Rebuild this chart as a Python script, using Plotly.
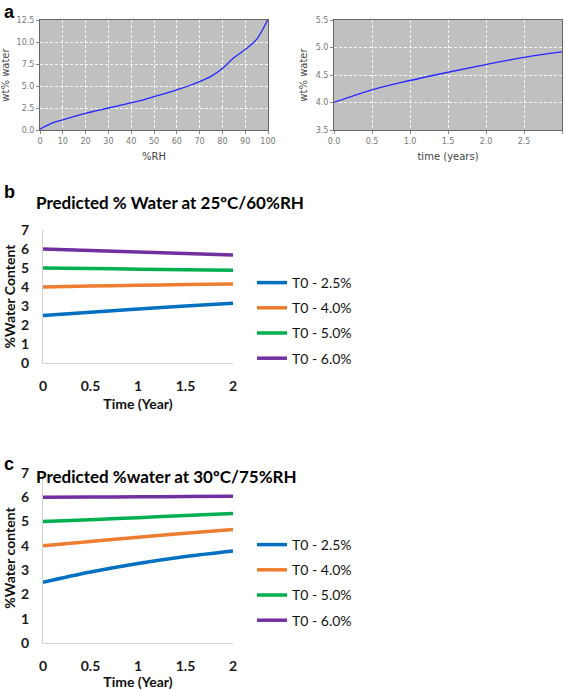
import plotly.graph_objects as go

W, H = 567, 690

# ---- Panel a data ----
rh = [0, 5, 10, 15, 20, 25, 30, 35, 40, 45, 50, 55, 60, 65, 70, 75, 80, 85, 90, 95, 100]
wt_rh = [0.1, 0.75, 1.15, 1.55, 1.9, 2.2, 2.5, 2.8, 3.1, 3.4, 3.8, 4.15, 4.57, 5.0, 5.5, 6.1, 7.0, 8.2, 9.15, 10.3, 12.6]
t_years = [0.0, 0.5, 1.0, 1.5, 2.0, 2.5, 3.0]
wt_time = [4.0, 4.23, 4.40, 4.55, 4.69, 4.82, 4.92]

# ---- Panel b / c data ----
t = [0, 0.5, 1.0, 1.5, 2.0]
names = ["T0 - 2.5%", "T0 - 4.0%", "T0 - 5.0%", "T0 - 6.0%"]
colors = ["#0070C0", "#ED7D31", "#00B050", "#7030A0"]
b_vals = [
    [2.5, 2.67, 2.84, 3.0, 3.14],
    [4.0, 4.05, 4.09, 4.13, 4.16],
    [5.0, 4.97, 4.94, 4.91, 4.88],
    [6.0, 5.92, 5.84, 5.76, 5.68],
]
c_vals = [
    [2.5, 2.92, 3.27, 3.56, 3.79],
    [4.0, 4.18, 4.35, 4.52, 4.67],
    [5.0, 5.08, 5.16, 5.25, 5.33],
    [6.0, 6.01, 6.02, 6.03, 6.04],
]

def xd(a, b):
    return [a / W, b / W]

def yd(top, bottom):
    return [1 - bottom / H, 1 - top / H]

fig = go.Figure()

fig.add_trace(go.Scatter(x=rh, y=wt_rh, mode="lines", line=dict(color="#2626ff", width=1.3, shape="spline"),
                         xaxis="x", yaxis="y", showlegend=False))
fig.add_trace(go.Scatter(x=t_years, y=wt_time, mode="lines", line=dict(color="#2626ff", width=1.3, shape="spline"),
                         xaxis="x2", yaxis="y2", showlegend=False))

for i in range(4):
    fig.add_trace(go.Scatter(x=t, y=b_vals[i], mode="lines", name=names[i],
                             line=dict(color=colors[i], width=3.5, shape="spline"),
                             xaxis="x3", yaxis="y3", legend="legend", legendgroup="b" + str(i)))
for i in range(4):
    fig.add_trace(go.Scatter(x=t, y=c_vals[i], mode="lines", name=names[i],
                             line=dict(color=colors[i], width=3.5, shape="spline"),
                             xaxis="x4", yaxis="y4", legend="legend2", legendgroup="c" + str(i)))

gray_font = dict(family="DejaVu Sans", size=8, color="#777777")
a_common = dict(showline=True, linecolor="#666666", mirror=True, linewidth=1,
                showgrid=True, gridcolor="rgba(255,255,255,0.85)", griddash="3px,2px", gridwidth=0.8,
                ticks="outside", ticklen=3, tickcolor="#888888", tickfont=gray_font,
                zeroline=False, automargin=False)

bc_x = dict(range=[0, 2], tickvals=[0, 0.5, 1, 1.5, 2], ticktext=["0", "0.5", "1", "1.5", "2"],
            showline=True, linecolor="#d0d0d0", linewidth=1, showgrid=False, zeroline=False, ticks="",
            ticklabelstandoff=10, automargin=False,
            tickfont=dict(family="Lato", size=14, color="#1a1a1a", weight="bold"))
bc_y = dict(range=[0, 7], dtick=1, showline=True, linecolor="#d0d0d0", linewidth=1, showgrid=False,
            zeroline=False, ticks="", ticklabelstandoff=10, automargin=False,
            tickfont=dict(family="Lato", size=14, color="#1a1a1a", weight="bold"))

title_a = dict(family="DejaVu Sans", size=10, color="#444444")
title_bc = dict(family="Lato", size=14, color="#111111", weight="bold")

fig.update_layout(
    width=W, height=H, margin=dict(l=0, r=0, t=0, b=0),
    paper_bgcolor="white", plot_bgcolor="white",
    xaxis=dict(domain=xd(40, 268), range=[0, 100], dtick=10, anchor="y", **a_common,
               title=dict(text="%RH", font=title_a, standoff=8)),
    yaxis=dict(domain=yd(20, 130), range=[0, 12.5], dtick=2.5, tickformat=".1f", anchor="x", **a_common,
               title=dict(text="wt% water", font=title_a, standoff=6)),
    xaxis2=dict(domain=xd(334, 562), range=[0, 3], dtick=0.5, tickformat=".1f", anchor="y2", **a_common,
                title=dict(text="time (years)", font=title_a, standoff=8)),
    yaxis2=dict(domain=yd(20, 130), range=[3.5, 5.5], dtick=0.5, tickformat=".1f", anchor="x2", **a_common,
                title=dict(text="wt% water", font=title_a, standoff=6)),
    xaxis3=dict(domain=xd(43, 233), anchor="y3", **bc_x,
                title=dict(text="Time (Year)", font=title_bc, standoff=6)),
    yaxis3=dict(domain=yd(230, 363), anchor="x3", **bc_y,
                title=dict(text="%Water Content", font=title_bc, standoff=2)),
    xaxis4=dict(domain=xd(43, 233), anchor="y4", **bc_x,
                title=dict(text="Time (Year)", font=title_bc, standoff=6)),
    yaxis4=dict(domain=yd(473, 643), anchor="x4", **bc_y,
                title=dict(text="%Water content", font=title_bc, standoff=2)),
    legend=dict(x=252 / W, y=1 - 267 / H, xanchor="left", yanchor="top", bgcolor="rgba(0,0,0,0)",
                font=dict(family="Lato", size=14, color="#111111"), tracegroupgap=4, itemwidth=30),
    legend2=dict(x=252 / W, y=1 - 529 / H, xanchor="left", yanchor="top", bgcolor="rgba(0,0,0,0)",
                 font=dict(family="Lato", size=14, color="#111111"), tracegroupgap=4, itemwidth=30),
    shapes=[
        dict(type="rect", xref="x domain", yref="y domain", x0=0, x1=1, y0=0, y1=1,
             fillcolor="#c0c0c0", line=dict(width=0), layer="below"),
        dict(type="rect", xref="x2 domain", yref="y2 domain", x0=0, x1=1, y0=0, y1=1,
             fillcolor="#c0c0c0", line=dict(width=0), layer="below"),
    ],
    annotations=[
        dict(text="<b>a</b>", x=2 / W, y=1 - 0 / H, xref="paper", yref="paper", xanchor="left", yanchor="top",
             showarrow=False, font=dict(family="Liberation Sans", size=18, color="black")),
        dict(text="<b>b</b>", x=2 / W, y=1 - 180 / H, xref="paper", yref="paper", xanchor="left", yanchor="top",
             showarrow=False, font=dict(family="Liberation Sans", size=18, color="black")),
        dict(text="<b>c</b>", x=2 / W, y=1 - 452 / H, xref="paper", yref="paper", xanchor="left", yanchor="top",
             showarrow=False, font=dict(family="Liberation Sans", size=18, color="black")),
        dict(text="<b>Predicted % Water at 25ºC/60%RH</b>", x=34 / W, y=1 - 203 / H, xref="paper", yref="paper",
             xanchor="left", yanchor="middle", showarrow=False,
             font=dict(family="Lato", size=17, color="black")),
        dict(text="<b>Predicted %water at 30ºC/75%RH</b>", x=34 / W, y=1 - 476 / H, xref="paper", yref="paper",
             xanchor="left", yanchor="middle", showarrow=False,
             font=dict(family="Lato", size=17, color="black")),
    ],
)

fig.write_html("out.html", config={"displayModeBar": False},
               post_script="document.body.style.margin='0px';document.body.style.overflow='hidden';")
